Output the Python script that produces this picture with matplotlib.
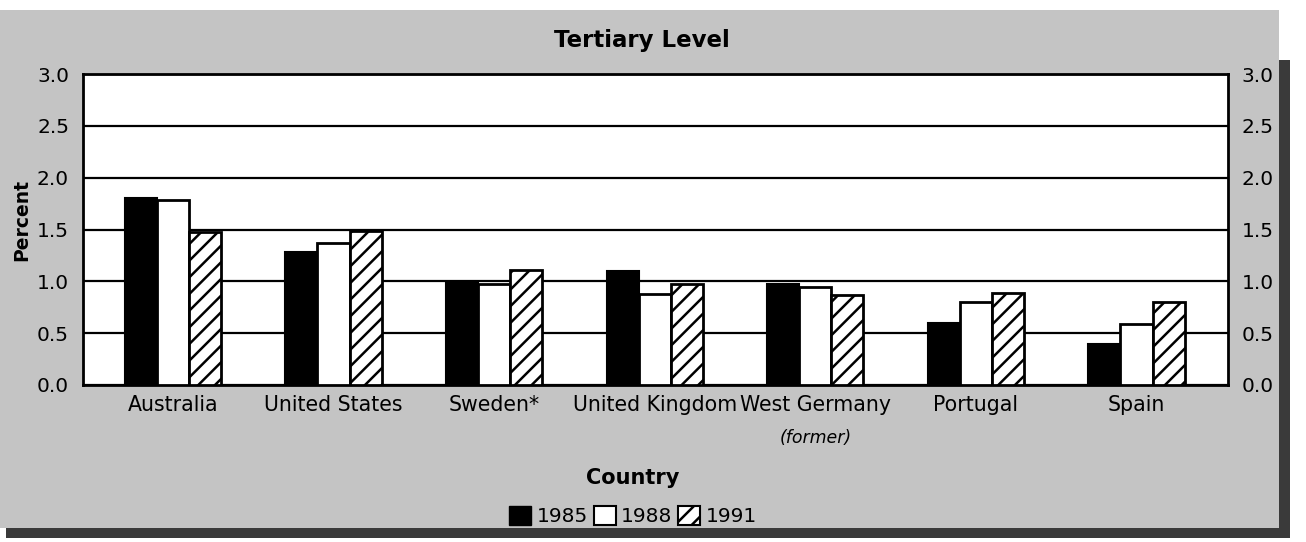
# -*- coding: utf-8 -*-
"""
Tertiary level bar chart - percent by country, 1985 / 1988 / 1991
"""

# %% Import Statements
import numpy as np
import matplotlib
matplotlib.use('Agg')
import matplotlib.pyplot as plt
from matplotlib.patches import Rectangle, Patch

# %% Data
countries = ['Australia', 'United States', 'Sweden*', 'United Kingdom',
             'West Germany', 'Portugal', 'Spain']
years = ['1985', '1988', '1991']
vals_1985 = [1.80, 1.28, 0.98, 1.10, 0.97, 0.60, 0.40]
vals_1988 = [1.78, 1.37, 0.97, 0.88, 0.95, 0.80, 0.59]
vals_1991 = [1.48, 1.49, 1.11, 0.97, 0.87, 0.89, 0.80]
y_ticks = [0.0, 0.5, 1.0, 1.5, 2.0, 2.5, 3.0]

# %% Figure setup
W, H = 1306, 542
plt.rcParams['font.family'] = ['DejaVu Sans']
plt.rcParams['hatch.linewidth'] = 1.8
fig = plt.figure(figsize=(W / 100, H / 100), dpi=100)
fig.patch.set_facecolor('white')

# background panel + drop shadow (pixel coords -> fig fraction)
def px_rect(x0, y0, x1, y1, **kw):
    return Rectangle((x0 / W, 1 - y1 / H), (x1 - x0) / W, (y1 - y0) / H,
                     transform=fig.transFigure, **kw)

fig.patches.append(px_rect(6, 60, 1290, 538, facecolor='#3a3a3a', zorder=0))
fig.patches.append(px_rect(0, 10, 1279, 528, facecolor='#c4c4c4', zorder=1))

ax = fig.add_axes([83 / W, 1 - 385 / H, (1228 - 83) / W, 311 / H])
ax.set_facecolor('white')
ax.set_zorder(2)

# %% Bars
x = np.arange(len(countries))
bw = 0.2
ax.bar(x - bw, vals_1985, bw, color='black', edgecolor='black', lw=1.5, zorder=3)
ax.bar(x, vals_1988, bw, color='white', edgecolor='black', lw=2, zorder=3)
ax.bar(x + bw, vals_1991, bw, color='white', edgecolor='black', lw=2,
       hatch='//', zorder=3)

ax.set_xlim(-0.56, 6.57)
ax.set_ylim(0, 3.0)
ax.set_yticks(y_ticks)
ax.set_yticklabels(['%.1f' % v for v in y_ticks])
ax.yaxis.grid(True, color='black', lw=1.6)
ax.set_axisbelow(True)
ax.tick_params(axis='y', length=0, labelsize=14.5, pad=10,
               left=True, right=True, labelleft=True, labelright=True)
ax.tick_params(axis='x', length=0, labelsize=14.8, pad=7)
ax.set_xticks(x)
ax.set_xticklabels(countries)
for s in ax.spines.values():
    s.set_linewidth(2)

# %% Text
fig.text(642 / W, 1 - 41 / H, 'Tertiary Level', ha='center', va='center',
         fontsize=16.5, fontweight='bold')
fig.text(22 / W, 1 - 220 / H, 'Percent', ha='center', va='center',
         rotation=90, fontsize=13.5, fontweight='bold')
ax.text(4, -0.17, '(former)', transform=ax.get_xaxis_transform(),
        ha='center', va='center', fontsize=12.5, style='italic')
fig.text(633 / W, 1 - 478 / H, 'Country', ha='center', va='center',
         fontsize=15, fontweight='bold')

handles = [Patch(facecolor='black', edgecolor='black'),
           Patch(facecolor='white', edgecolor='black', lw=1.5),
           Patch(facecolor='white', edgecolor='black', lw=1.5, hatch='//')]
fig.legend(handles, years, loc='center', bbox_to_anchor=(633 / W, 1 - 516 / H),
           ncol=3, frameon=False, fontsize=14.5, handlelength=1.1,
           handleheight=1.1, handletextpad=0.25, columnspacing=0.3,
           borderpad=0)

fig.savefig('out.png', dpi=100)
